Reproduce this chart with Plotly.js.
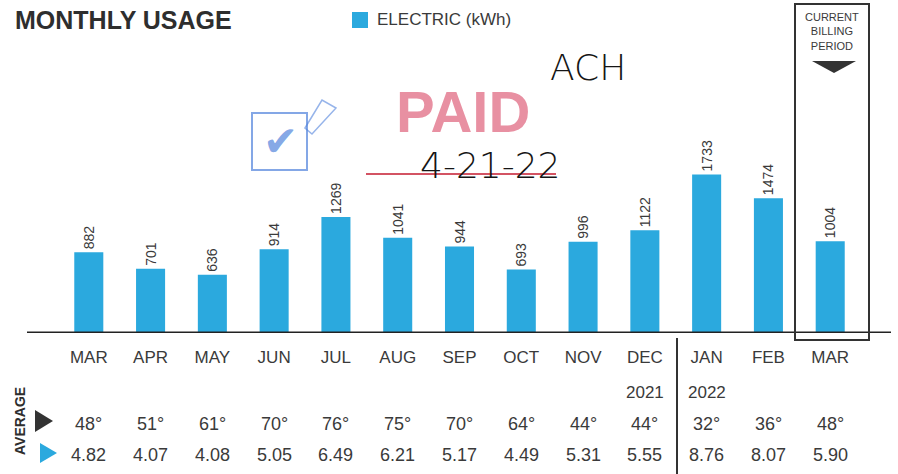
<!DOCTYPE html>
<html><head><meta charset="utf-8">
<script src="https://cdn.plot.ly/plotly-3.0.1.min.js"></script>
<style>html,body{margin:0;padding:0;background:#fff}#chart{width:898px;height:474px}</style>
</head><body><div id="chart"></div>
<script>
const months = ['MAR','APR','MAY','JUN','JUL','AUG','SEP','OCT','NOV','DEC','JAN','FEB','MAR'];
const kwh = [882,701,636,914,1269,1041,944,693,996,1122,1733,1474,1004];
const years = ['','','','','','','','','','2021','2022','',''];
const avgTemp = ['48°','51°','61°','70°','76°','75°','70°','64°','44°','44°','32°','36°','48°'];
const avgDaily = ['4.82','4.07','4.08','5.05','6.49','6.21','5.17','4.49','5.31','5.55','8.76','8.07','5.90'];

const W = 898, H = 474, T = 0, B = 141, L = 27, R = 6;
const PH = H - T - B, PW = W - L - R;
const py = p => (H - B - p) / PH;  // pixel row -> paper y
const px = p => (p - L) / PW;      // pixel col -> paper x
const FONT = '"Liberation Sans Narrow","Liberation Sans",Arial,sans-serif';
const ink = '#3a3a3a';
const blue = '#2ba9de';
const idx = months.map((_, i) => i);

const annotations = [];
const ann = (o) => annotations.push(Object.assign({showarrow:false, xanchor:'center', yanchor:'middle'}, o));
ann({text:'<b>MONTHLY USAGE</b>', xref:'paper', yref:'paper', x:px(13), y:py(20), xanchor:'left', font:{family:FONT, size:25, color:'#2e2e2e'}});
ann({text:'ELECTRIC (kWh)', xref:'paper', yref:'paper', x:px(375), y:py(20), xanchor:'left', font:{family:FONT, size:17, color:ink}});
ann({text:'CURRENT<br>BILLING<br>PERIOD', xref:'paper', yref:'paper', x:px(832), y:py(31), font:{family:FONT, size:11, color:ink}});
idx.forEach(i => {
  if (years[i]) ann({text:years[i], xref:'x', yref:'paper', x:i, y:py(392), font:{family:FONT, size:17, color:ink}});
  ann({text:avgTemp[i], xref:'x', yref:'paper', x:i, y:py(424), font:{family:FONT, size:18, color:ink}});
  ann({text:avgDaily[i], xref:'x', yref:'paper', x:i, y:py(455), font:{family:FONT, size:18, color:ink}});
});
ann({text:'<b>AVERAGE</b>', xref:'paper', yref:'paper', x:px(20), y:py(421), textangle:-90, font:{family:FONT, size:14, color:'#2e2e2e'}});
// handwritten / stamp marks
ann({text:'PAID', xref:'paper', yref:'paper', x:px(463), y:py(112), font:{family:FONT, size:58, weight:'bold', color:'rgba(220,85,112,0.65)'}});
ann({text:'ACH', xref:'paper', yref:'paper', x:px(588), y:py(68), font:{family:'DejaVu Sans', size:36, weight:300, color:'#151515'}});
ann({text:'4-21-22', xref:'paper', yref:'paper', x:px(490), y:py(165), font:{family:'DejaVu Sans', size:36, weight:300, color:'#151515'}});
ann({text:'✔', xref:'paper', yref:'paper', x:px(280), y:py(141), font:{family:'DejaVu Sans', size:42, color:'rgba(80,130,220,0.7)'}});

const shapes = [
  // baseline
  {type:'line', xref:'paper', yref:'y', x0:px(27), x1:px(891), y0:0, y1:0, line:{color:'#222', width:3}},
  // current billing box
  {type:'rect', xref:'paper', yref:'paper', x0:px(795), x1:px(869), y0:py(340), y1:py(4), line:{color:'#333', width:2}, fillcolor:'rgba(0,0,0,0)'},
  {type:'path', xref:'paper', yref:'paper', path:`M ${px(812)} ${py(61)} L ${px(856)} ${py(61)} L ${px(834)} ${py(73)} Z`, fillcolor:'#333', line:{width:0}},
  // year divider
  {type:'line', xref:'paper', yref:'paper', x0:px(677), x1:px(677), y0:py(338), y1:py(474), line:{color:'#333', width:2}},
  // legend swatch
  {type:'rect', xref:'paper', yref:'paper', x0:px(352), x1:px(368), y0:py(28), y1:py(12), fillcolor:blue, line:{width:0}},
  // average markers
  {type:'path', xref:'paper', yref:'paper', path:`M ${px(35)} ${py(410)} L ${px(53)} ${py(421)} L ${px(35)} ${py(432)} Z`, fillcolor:'#333', line:{width:0}},
  {type:'path', xref:'paper', yref:'paper', path:`M ${px(40)} ${py(443)} L ${px(57)} ${py(453)} L ${px(40)} ${py(463)} Z`, fillcolor:blue, line:{width:0}},
  // red underline
  {type:'line', xref:'paper', yref:'paper', x0:px(366), x1:px(556), y0:py(174), y1:py(174), line:{color:'rgba(200,40,60,0.8)', width:2}},
  // check stamp box + ribbon
  {type:'rect', xref:'paper', yref:'paper', x0:px(252), x1:px(307), y0:py(170), y1:py(113), line:{color:'rgba(80,130,220,0.7)', width:2}, fillcolor:'rgba(0,0,0,0)'},
  {type:'path', xref:'paper', yref:'paper', path:`M ${px(305)} ${py(128)} L ${px(322)} ${py(100)} L ${px(336)} ${py(108)} L ${px(312)} ${py(134)} Z`, fillcolor:'rgba(0,0,0,0)', line:{color:'rgba(80,130,220,0.6)', width:1.5}}
];

const trace = {
  type:'bar', x:idx, y:kwh, width:0.47,
  marker:{color:blue, line:{width:0}},
  text:kwh.map(String), textposition:'outside', textangle:-90, cliponaxis:false, constraintext:'none',
  textfont:{family:FONT, size:14, color:ink},
  hoverinfo:'skip'
};

const layout = {
  width:W, height:H, margin:{l:L, r:R, t:T, b:B},
  paper_bgcolor:'#fff', plot_bgcolor:'#fff', showlegend:false,
  xaxis:{range:[-1,13], tickvals:idx, ticktext:months, showgrid:false, zeroline:false, showline:false, ticks:'',
         ticklabelstandoff:12, tickfont:{family:FONT, size:17, color:ink}, fixedrange:true},
  yaxis:{range:[0, PH/0.0915], visible:false, showgrid:false, zeroline:false, fixedrange:true},
  annotations, shapes
};
Plotly.newPlot('chart', [trace], layout, {displayModeBar:false, staticPlot:true});
</script></body></html>
